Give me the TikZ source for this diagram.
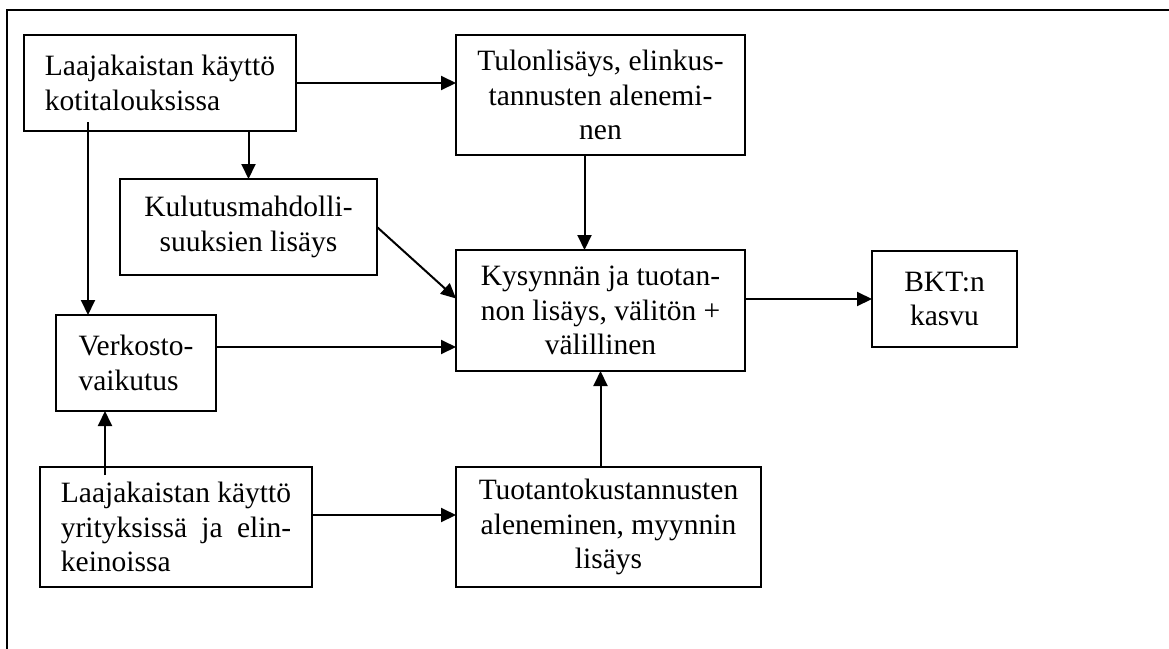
\documentclass[tikz,border=0pt]{standalone}
\usepackage{fontspec}
\setmainfont{Liberation Serif}
\usepackage{calc}
\usetikzlibrary{arrows.meta,calc}
\begin{document}
\begin{tikzpicture}[x=1pt,y=-1pt,
  box/.style={draw,line width=2pt,inner sep=0pt,outer sep=0pt,font=\fontsize{29.5}{34.5}\selectfont},
  arr/.style={line width=2pt,-{Triangle[length=15pt,width=14pt]}}]
\useasboundingbox (0,0) rectangle (1169,648);
\draw[line width=2.2pt] (7,649) -- (7,10) -- (1170,10);
\node[box,minimum width=272pt,minimum height=96pt,align=left] (b1) at (160,83) {Laajakaistan käyttö\\kotitalouksissa};
\node[box,minimum width=289pt,minimum height=120pt,align=center] (b2) at (600.5,95) {Tulonlisäys, elinkus-\\tannusten alenemi-\\nen};
\node[box,minimum width=257pt,minimum height=96pt,align=center] (b3) at (248.5,227) {Kulutusmahdolli-\\suuksien lisäys};
\node[box,minimum width=289pt,minimum height=121pt,align=center] (kys) at (600.5,310.5) {Kysynnän ja tuotan-\\non lisäys, välitön +\\välillinen};
\node[box,minimum width=145pt,minimum height=96pt,align=center] (bkt) at (944.5,299) {BKT:n\\kasvu};
\node[box,minimum width=160pt,minimum height=96pt,align=left] (verk) at (136,363) {Verkosto-\\vaikutus};
\node[box,minimum width=272pt,minimum height=120pt,align=left] (yrit) at (176,527) {Laajakaistan käyttö\\\makebox[\widthof{Laajakaistan käyttö}][s]{yrityksissä ja elin-}\\keinoissa};
\node[box,minimum width=305pt,minimum height=120pt,align=center] (tuot) at (608.5,527) {Tuotantokustannusten\\aleneminen, myynnin\\lisäys};
\draw[arr] (b1.east) -- (b1.east -| b2.west);
\draw[arr] (b3.north |- b1.south) -- (b3.north);
\draw[arr] ($(b1.south west)+(64,-9)$) -- ($(verk.north west)+(32,0)$);
\draw[arr] ($(yrit.north west)+(65,8)$) -- ($(verk.south west)+(49,0)$);
\draw[arr] (b3.east) -- ($(kys.west)+(0,-12)$);
\draw[arr] ($(b2.south)+(-16,0)$) -- ($(kys.north)+(-16,0)$);
\draw[arr] ($(verk.east)+(0,-16)$) -- ($(kys.west)+(0,36.5)$);
\draw[arr] (bkt.west -| kys.east) -- (bkt.west);
\draw[arr] ($(yrit.east)+(0,-12)$) -- ($(tuot.west)+(0,-12)$);
\draw[arr] (kys.south |- tuot.north) -- (kys.south);
\end{tikzpicture}
\end{document}
